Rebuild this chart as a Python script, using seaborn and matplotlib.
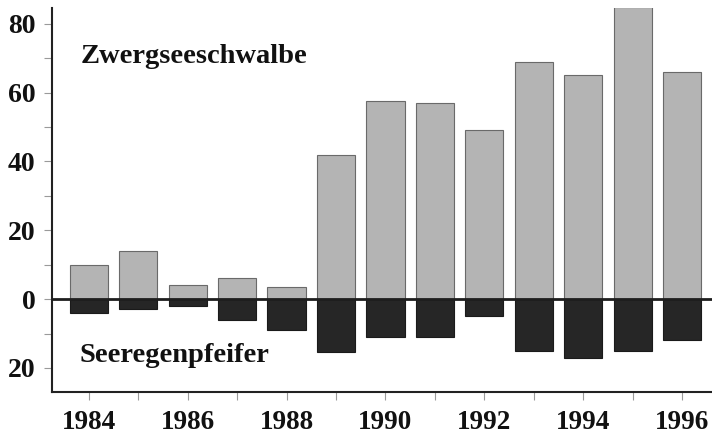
import matplotlib
matplotlib.use("Agg")
import matplotlib.pyplot as plt
import seaborn as sns
import pandas as pd
import numpy as np

years = [1984, 1985, 1986, 1987, 1988, 1989, 1990, 1991, 1992, 1993, 1994, 1995, 1996]
zwergseeschwalbe = [10, 14, 4, 6, 3.5, 42, 57.5, 57, 49, 69, 65, 85, 66]
seeregenpfeifer = [4, 3, 2, 6, 9, 15.5, 11, 11, 5, 15, 17, 15, 12]
ytick_values = [-20, 0, 20, 40, 60, 80]
ytick_labels = ["20", "0", "20", "40", "60", "80"]

sns.set_theme(style="white")
plt.rcParams["font.family"] = ["Liberation Serif", "DejaVu Serif"]

df = pd.DataFrame({
    "year": [str(y) for y in years],
    "zw": zwergseeschwalbe,
    "see": [-v for v in seeregenpfeifer],
})

fig = plt.figure(figsize=(7.12, 4.36), dpi=100)
ax = fig.add_axes([52 / 712, 44 / 436, 1 - 52 / 712, (392 - 8) / 436])

sns.barplot(data=df, x="year", y="zw", color="#b4b4b4", saturation=1,
            width=0.77, edgecolor="#6a6a6a", linewidth=0.8, ax=ax)
sns.barplot(data=df, x="year", y="see", color="#262626", saturation=1,
            width=0.77, edgecolor="#1a1a1a", linewidth=0.8, ax=ax)

ax.axhline(0, color="#1e1e1e", lw=2.0, zorder=5)

ax.set_xlim(-0.74, 12.6)
ax.set_ylim(-27, 84.6)

ax.set_xticks(range(0, 13, 2))
ax.set_xticklabels([str(y) for y in years[::2]])
ax.set_xticks(range(13), minor=True)
ax.set_yticks(ytick_values)
ax.set_yticklabels(ytick_labels)
ax.set_yticks(range(-20, 90, 10), minor=True)

ax.tick_params(axis="both", which="both", direction="out", color="#9a9a9a",
               length=6, width=0.8, bottom=True, left=True)
ax.tick_params(axis="x", which="major", labelsize=19.5, pad=7)
ax.tick_params(axis="y", which="major", labelsize=20, pad=6)
for lab in ax.get_xticklabels() + ax.get_yticklabels():
    lab.set_fontweight("bold")
    lab.set_color("#111111")

ax.set_xlabel("")
ax.set_ylabel("")

for s in ["top", "right"]:
    ax.spines[s].set_visible(False)
for s in ["left", "bottom"]:
    ax.spines[s].set_color("#222222")
    ax.spines[s].set_linewidth(1.5)

ax.text(-0.16, 68.6, "Zwergseeschwalbe", fontsize=20.5, fontweight="bold",
        color="#111111", ha="left", va="baseline")
ax.text(-0.19, -18.2, "Seeregenpfeifer", fontsize=20.5, fontweight="bold",
        color="#111111", ha="left", va="baseline")

fig.savefig("out.png", dpi=100)
